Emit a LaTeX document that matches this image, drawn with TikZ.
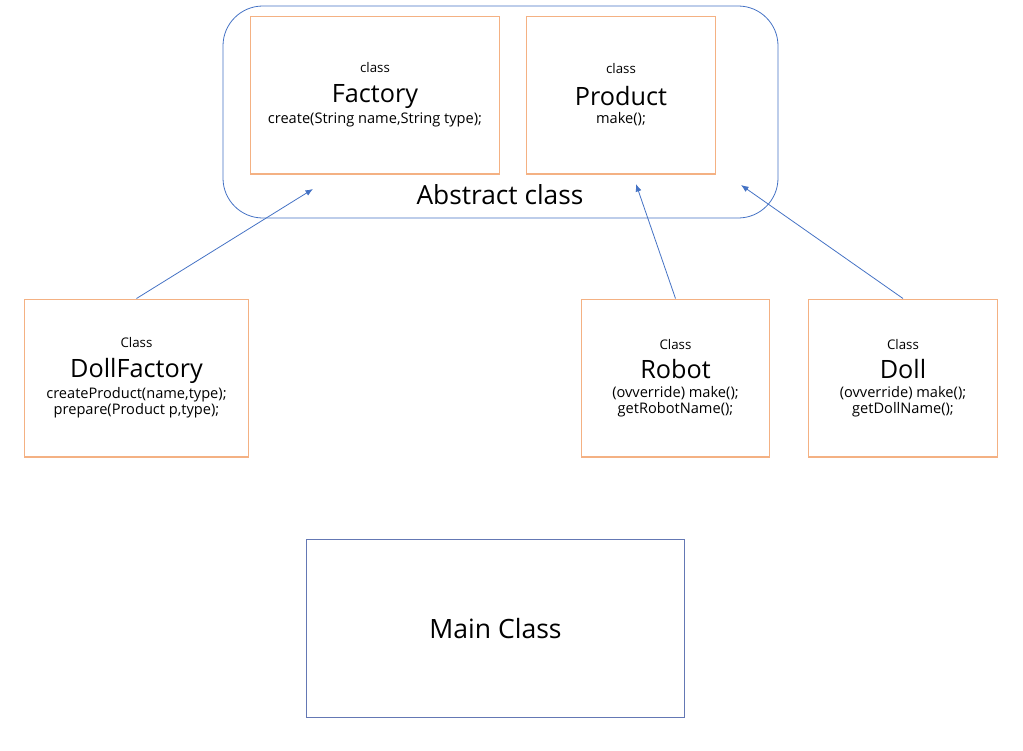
\documentclass[tikz,border=0pt]{standalone}
\usepackage{fontspec}
\setmainfont{Open Sans}
\usetikzlibrary{arrows.meta}
\definecolor{boxorange}{RGB}{244,177,131}
\definecolor{lineblue}{RGB}{68,114,196}
\definecolor{mainblue}{RGB}{100,120,180}
\newcommand{\ckind}{\fontsize{10}{12}\selectfont}
\newcommand{\cname}{\fontsize{19}{21}\selectfont}
\newcommand{\meth}{\fontsize{11}{13}\selectfont}
\begin{document}
\begin{tikzpicture}[x=0.02646cm, y=-0.02646cm, >={Latex[length=2mm,width=1.6mm]}]

    % estilos
    \tikzstyle{classe}=[draw=boxorange, line width=1.2pt, align=center, inner sep=0pt, minimum height=118.5pt]
    \tikzstyle{heranca}=[->, lineblue, semithick]

    \useasboundingbox (0,0) rectangle (1023,750);

    %======================= ABSTRATAS =======================
    \draw[lineblue, semithick, rounded corners=30pt] (223,6) rectangle (778,218);
    \node (abs) at (500,195) {\fontsize{19.8}{22}\selectfont Abstract class};

    \node[classe, minimum width=187.5pt] (factory) at (375,95)
      {\ckind class\\[8pt] \cname Factory\\[2pt] \meth create(String name,String type);};
    \node[classe, minimum width=142.5pt] (product) at (621,95)
      {\ckind class\\[8pt] \cname Product\\[2pt] \meth make();};

    % pontas das setas dentro da caixa abstrata
    \coordinate (pf) at (313,189);
    \coordinate (pp) at (636,184);
    \coordinate (pd) at (741,185);

    %======================= CONCRETAS =======================
    \node[classe, minimum width=168.75pt] (dfactory) at (136.5,378)
      {\ckind Class\\[7pt] \cname DollFactory\\[2pt] \meth createProduct(name,type);\\ \meth prepare(Product p,type);};
    \node[classe, minimum width=141.75pt] (robot) at (675.5,378)
      {\ckind Class\\[7pt] \cname Robot\\[2pt] \meth (ovverride) make();\\ \meth getRobotName();};
    \node[classe, minimum width=142.5pt] (doll) at (903,378)
      {\ckind Class\\[7pt] \cname Doll\\[2pt] \meth (ovverride) make();\\ \meth getDollName();};

    % heranca
    \draw[heranca] (dfactory.north) -- (pf);
    \draw[heranca] (robot.north) -- (pp);
    \draw[heranca] (doll.north) -- (pd);

    %======================= MAIN =======================
    \node[draw=mainblue, semithick, minimum width=284.25pt, minimum height=134.25pt] (main) at (495.5,628.5)
      {\fontsize{20}{22}\selectfont Main Class};

\end{tikzpicture}
\end{document}
